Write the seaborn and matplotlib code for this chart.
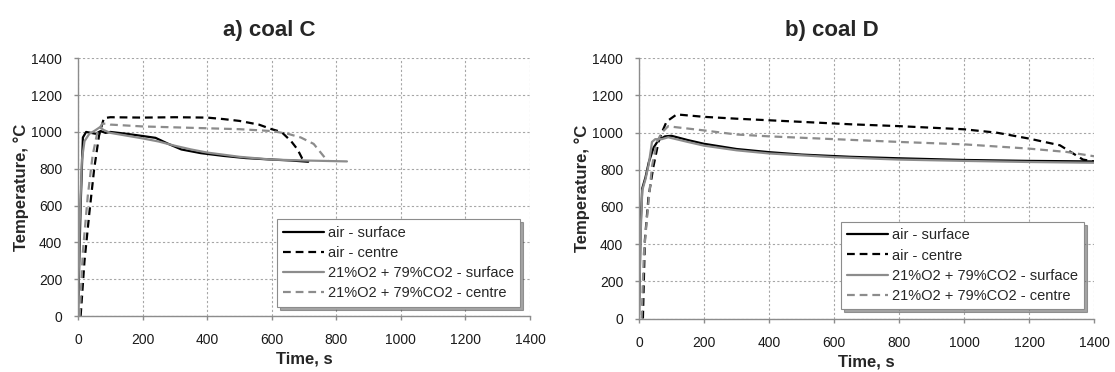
import numpy as np
import pandas as pd
import seaborn as sns
import matplotlib
matplotlib.use("Agg")
import matplotlib.pyplot as plt

# ---------------- data ----------------
series_names = ["air - surface", "air - centre",
                "21%O2 + 79%CO2 - surface", "21%O2 + 79%CO2 - centre"]
titles = ["a) coal C", "b) coal D"]
ticks = [0, 200, 400, 600, 800, 1000, 1200, 1400]

# coal C
c_air_surf_t = [0, 8, 15, 25, 40, 55, 70, 85, 100, 150, 200, 240, 280, 320, 380, 450, 520, 600, 660, 713]
c_air_surf_T = [20, 600, 970, 1000, 995, 990, 1005, 995, 1000, 990, 978, 968, 935, 905, 885, 870, 858, 850, 845, 838]
c_air_cen_t = [8, 20, 35, 50, 65, 80, 100, 200, 300, 400, 450, 500, 560, 600, 630, 660, 680, 694, 705]
c_air_cen_T = [0, 300, 560, 800, 980, 1075, 1080, 1078, 1080, 1078, 1070, 1060, 1040, 1015, 1000, 950, 905, 857, 845]
c_o2_surf_t = [0, 5, 12, 20, 35, 50, 67, 80, 100, 150, 200, 250, 300, 350, 400, 500, 600, 700, 780, 833]
c_o2_surf_T = [20, 500, 850, 950, 990, 1005, 1025, 1010, 995, 980, 965, 948, 925, 905, 888, 865, 850, 845, 842, 840]
c_o2_cen_t = [5, 15, 30, 45, 60, 75, 90, 100, 200, 300, 400, 500, 600, 650, 690, 730, 766, 775]
c_o2_cen_T = [0, 350, 650, 870, 1000, 1045, 1045, 1040, 1030, 1025, 1020, 1015, 1005, 990, 970, 935, 857, 845]

# coal D
d_air_surf_t = [0, 5, 10, 20, 30, 45, 60, 80, 100, 150, 200, 300, 400, 500, 650, 800, 1000, 1200, 1400]
d_air_surf_T = [20, 500, 700, 760, 840, 920, 960, 980, 983, 960, 940, 912, 895, 882, 870, 862, 853, 848, 845]
d_air_cen_t = [12, 18, 29, 44, 60, 70, 85, 116, 200, 300, 500, 650, 800, 1000, 1100, 1200, 1295, 1366, 1400]
d_air_cen_T = [0, 420, 650, 815, 950, 1000, 1060, 1098, 1085, 1075, 1058, 1045, 1035, 1018, 1000, 968, 932, 855, 845]
d_o2_surf_t = [0, 5, 10, 20, 30, 40, 50, 70, 90, 150, 200, 300, 400, 600, 800, 1000, 1200, 1400]
d_o2_surf_T = [20, 450, 690, 750, 830, 950, 965, 965, 975, 950, 930, 905, 888, 868, 855, 848, 842, 838]
d_o2_cen_t = [8, 15, 25, 40, 55, 70, 90, 110, 200, 300, 400, 600, 800, 1000, 1200, 1316, 1400]
d_o2_cen_T = [0, 350, 550, 820, 950, 1000, 1035, 1030, 1012, 990, 980, 965, 950, 937, 914, 896, 873]

coal_data = [
    [(c_air_surf_t, c_air_surf_T), (c_air_cen_t, c_air_cen_T),
     (c_o2_surf_t, c_o2_surf_T), (c_o2_cen_t, c_o2_cen_T)],
    [(d_air_surf_t, d_air_surf_T), (d_air_cen_t, d_air_cen_T),
     (d_o2_surf_t, d_o2_surf_T), (d_o2_cen_t, d_o2_cen_T)],
]

# ---------------- style ----------------
sns.set_theme(style="white")
plt.rcParams["font.family"] = ["Liberation Sans", "DejaVu Sans"]

palette = {series_names[0]: "#000000", series_names[1]: "#000000",
           series_names[2]: "#8c8c8c", series_names[3]: "#8c8c8c"}
dashes = {series_names[0]: "", series_names[1]: (3.5, 2.2),
          series_names[2]: "", series_names[3]: (3.5, 2.2)}

fig = plt.figure(figsize=(11.15, 3.72), dpi=100)
axes = [fig.add_axes([0.070, 0.1505, 0.4053, 0.6927]),
        fig.add_axes([0.5731, 0.1438, 0.4081, 0.6995])]

for ax, title, data in zip(axes, titles, coal_data):
    frames = []
    for name, (t, T) in zip(series_names, data):
        frames.append(pd.DataFrame({"Time": t, "Temp": T, "series": name}))
    df = pd.concat(frames, ignore_index=True)
    sns.lineplot(data=df, x="Time", y="Temp", hue="series", style="series",
                 palette=palette, dashes=dashes, sort=False, estimator=None,
                 linewidth=1.6, ax=ax, legend=True)
    ax.set_xlim(0, 1400)
    ax.set_ylim(0, 1400)
    ax.set_xticks(ticks)
    ax.set_yticks(ticks)
    ax.grid(True, linestyle=(0, (2, 2)), color="#a6a6a6", linewidth=0.8)
    ax.set_axisbelow(True)
    for s in ["top", "right"]:
        ax.spines[s].set_visible(False)
    for s in ["left", "bottom"]:
        ax.spines[s].set_color("#8c8c8c")
        ax.spines[s].set_linewidth(1.0)
    ax.tick_params(axis="both", which="major", labelsize=10, colors="#8c8c8c",
                   labelcolor="#1a1a1a", length=3, width=1.0, direction="out",
                   bottom=True, left=True)
    ax.tick_params(axis="x", pad=9.5)
    ax.tick_params(axis="y", pad=8.3)
    ax.set_xlabel("Time, s", fontsize=12, fontweight="bold", labelpad=3)
    ax.set_ylabel("Temperature, °C", fontsize=12, fontweight="bold", labelpad=1.5)
    ax.set_title(title, fontsize=16, fontweight="bold", pad=16, x=0.424)
    handles, labels = ax.get_legend_handles_labels()
    leg = ax.legend(handles, labels, loc="lower right", bbox_to_anchor=(0.979, 0.035),
                    fontsize=10.5, frameon=True, fancybox=False, shadow=True,
                    edgecolor="#8c8c8c", handlelength=2.8, handletextpad=0.25,
                    labelspacing=0.42, borderpad=0.45, borderaxespad=0)
    leg.get_frame().set_linewidth(0.8)

fig.savefig("out.png", dpi=100)
